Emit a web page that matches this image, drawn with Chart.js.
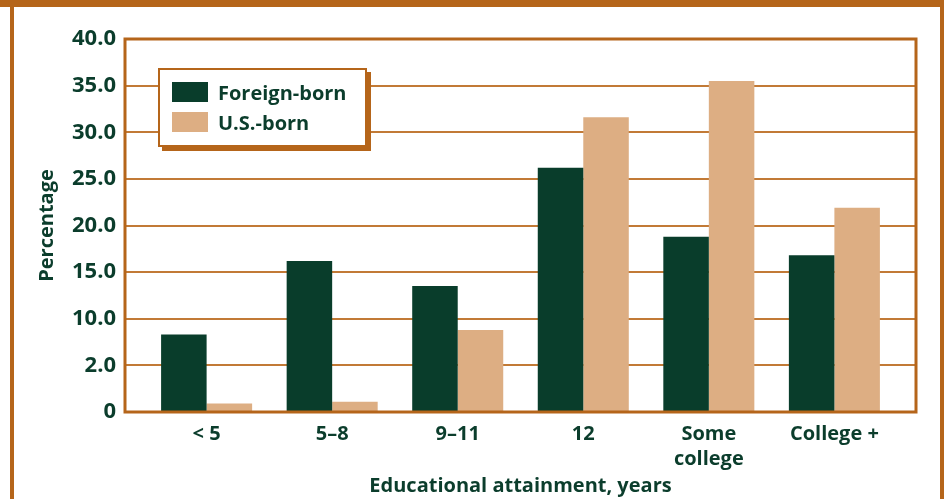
<!DOCTYPE html>
<html>
<head>
<meta charset="utf-8">
<script src="https://cdn.jsdelivr.net/npm/chart.js@4/dist/chart.umd.min.js"></script>
<style>
  html, body { margin: 0; padding: 0; background: #fff; }
  #wrap { position: relative; width: 944px; height: 499px; overflow: hidden; font-family: 'Open Sans', sans-serif; }
  #frame { position: absolute; left: 10px; top: 0; width: 926px; height: 499px;
    border-left: 4px solid #b5651a; border-right: 4px solid #b5651a; }
  #topbar { position: absolute; left: 0; top: 0; width: 944px; height: 7px; background: #b5651a; }
  #legend { position: absolute; left: 158px; top: 68px; width: 205px; height: 75px;
    border: 2px solid #b5651a; background: #fff; box-shadow: 4px 4px 0 #b5651a; }
  .item { position: absolute; left: 12px; height: 20px; display: flex; align-items: center;
    font-weight: 700; font-size: 20px; color: #0b3d2c; white-space: nowrap; }
  .sw { width: 36px; height: 20px; margin-right: 10px; }
  canvas { position: absolute; left: 0; top: 0; }
</style>
</head>
<body>
<div id="wrap">
  <canvas id="myChart" width="944" height="499"></canvas>
  <div id="frame"></div>
  <div id="topbar"></div>
  <div id="legend"></div>
</div>
<script>
const categories = ['< 5', '5–8', '9–11', '12', ['Some', 'college'], 'College +'];
const foreignBorn = [8.3, 16.2, 13.5, 26.2, 18.8, 16.8];
const usBorn = [0.9, 1.1, 8.8, 31.6, 35.5, 21.9];
const yTickValues = [0, 5, 10, 15, 20, 25, 30, 35, 40];
const yTickLabels = ['0', '2.0', '10.0', '15.0', '20.0', '25.0', '30.0', '35.0', '40.0'];

const seriesNames = ['Foreign-born', 'U.S.-born'];
const seriesColors = ['#093d2b', '#ddae83'];
const orange = '#b5651a';
const textColor = '#0b3d2c';

const toPoints = (values) => values.map((v, i) => ({ x: i, y: v }));

const plotBorder = {
  id: 'plotBorder',
  afterDatasetsDraw(chart) {
    const { ctx, chartArea } = chart;
    ctx.save();
    ctx.strokeStyle = orange;
    ctx.lineWidth = 3;
    ctx.strokeRect(chartArea.left, chartArea.top, chartArea.right - chartArea.left, chartArea.bottom - chartArea.top);
    ctx.restore();
  },
};

const ctx = document.getElementById('myChart').getContext('2d');
const chart = new Chart(ctx, {
  type: 'bar',
  data: {
    datasets: [
      { label: seriesNames[0], data: toPoints(foreignBorn), backgroundColor: seriesColors[0] },
      { label: seriesNames[1], data: toPoints(usBorn), backgroundColor: seriesColors[1] },
    ],
  },
  options: {
    responsive: false,
    animation: false,
    layout: { padding: { left: 0, right: 28, top: 39, bottom: 0 } },
    datasets: { bar: { categoryPercentage: 0.725, barPercentage: 1.0 } },
    plugins: { legend: { display: false }, tooltip: { enabled: false } },
    scales: {
      x: {
        type: 'linear',
        min: -0.65,
        max: 5.65,
        offset: false,
        afterBuildTicks: (scale) => {
          scale.ticks = categories.map((_, i) => ({ value: i }));
        },
        afterFit: (scale) => { scale.height = 87; },
        grid: { display: false, drawTicks: false },
        border: { display: false },
        ticks: {
          autoSkip: false,
          maxRotation: 0,
          padding: 10,
          color: textColor,
          font: { family: 'Open Sans', weight: 'bold', size: 20, lineHeight: 1.25 },
          callback: (value) => categories[value],
        },
        title: {
          display: true,
          text: 'Educational attainment, years',
          color: textColor,
          font: { family: 'Open Sans', weight: 'bold', size: 20 },
          padding: { top: 0, bottom: 1 },
        },
      },
      y: {
        min: 0,
        max: 40,
        afterBuildTicks: (scale) => {
          scale.ticks = yTickValues.map((v) => ({ value: v }));
        },
        afterFit: (scale) => { scale.width = 125; },
        grid: { color: '#c27a36', lineWidth: 2, drawTicks: false },
        border: { display: false },
        ticks: {
          padding: 9,
          color: textColor,
          font: { family: 'Open Sans', weight: 'bold', size: 22 },
          callback: (value) => yTickLabels[yTickValues.indexOf(value)],
        },
        title: {
          display: true,
          text: 'Percentage',
          color: textColor,
          font: { family: 'Open Sans', weight: 'bold', size: 20 },
          padding: { top: 35, bottom: 0 },
        },
      },
    },
  },
  plugins: [plotBorder],
});

const legend = document.getElementById('legend');
seriesNames.forEach((name, i) => {
  const item = document.createElement('div');
  item.className = 'item';
  item.style.top = (12 + i * 30) + 'px';
  item.innerHTML = `<span class="sw" style="background:${seriesColors[i]}"></span>${name}`;
  legend.appendChild(item);
});
</script>
</body>
</html>
